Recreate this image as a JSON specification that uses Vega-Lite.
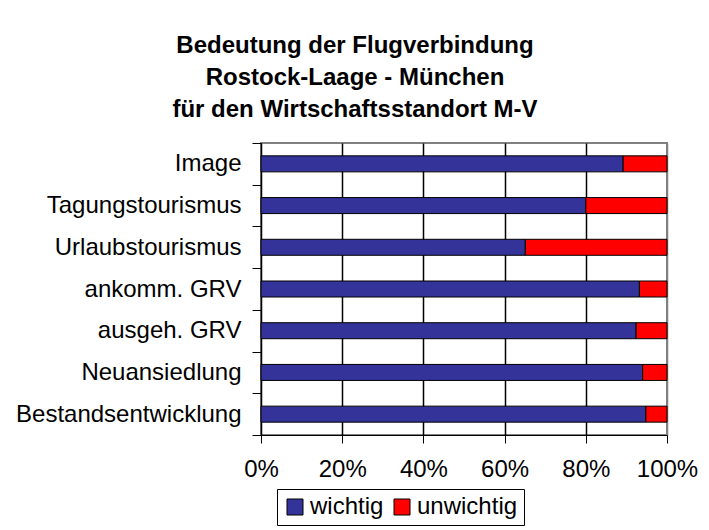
{
  "$schema": "https://vega.github.io/schema/vega-lite/v6.json",
  "autosize": "none",
  "width": 406,
  "height": 292,
  "padding": {"left": 261, "top": 143, "right": 42, "bottom": 95},
  "config": {
    "font": "Liberation Sans",
    "view": {"stroke": "#808080", "strokeWidth": 2}
  },
  "title": {
    "text": ["Bedeutung der Flugverbindung", "Rostock-Laage - München", "für den Wirtschaftsstandort M-V"],
    "fontSize": 24,
    "fontWeight": "bold",
    "font": "Liberation Sans",
    "color": "#000000",
    "anchor": "middle",
    "frame": "group",
    "dx": -109,
    "lineHeight": 32,
    "offset": 9
  },
  "data": {
    "values": [
      {"Bereich": "Image", "Bewertung": "wichtig", "Anteil": 89.2},
      {"Bereich": "Image", "Bewertung": "unwichtig", "Anteil": 10.8},
      {"Bereich": "Tagungstourismus", "Bewertung": "wichtig", "Anteil": 80},
      {"Bereich": "Tagungstourismus", "Bewertung": "unwichtig", "Anteil": 20},
      {"Bereich": "Urlaubstourismus", "Bewertung": "wichtig", "Anteil": 65.1},
      {"Bereich": "Urlaubstourismus", "Bewertung": "unwichtig", "Anteil": 34.9},
      {"Bereich": "ankomm. GRV", "Bewertung": "wichtig", "Anteil": 93.2},
      {"Bereich": "ankomm. GRV", "Bewertung": "unwichtig", "Anteil": 6.8},
      {"Bereich": "ausgeh. GRV", "Bewertung": "wichtig", "Anteil": 92.4},
      {"Bereich": "ausgeh. GRV", "Bewertung": "unwichtig", "Anteil": 7.6},
      {"Bereich": "Neuansiedlung", "Bewertung": "wichtig", "Anteil": 94},
      {"Bereich": "Neuansiedlung", "Bewertung": "unwichtig", "Anteil": 6},
      {"Bereich": "Bestandsentwicklung", "Bewertung": "wichtig", "Anteil": 94.8},
      {"Bereich": "Bestandsentwicklung", "Bewertung": "unwichtig", "Anteil": 5.2}
    ]
  },
  "mark": {"type": "bar", "size": 16, "stroke": "#000000", "strokeWidth": 1},
  "encoding": {
    "y": {
      "field": "Bereich",
      "type": "nominal",
      "sort": null,
      "scale": {"paddingInner": 0, "paddingOuter": 0},
      "axis": {
        "title": null,
        "grid": false,
        "tickBand": "extent",
        "tickSize": 9,
        "tickColor": "#000000",
        "domainColor": "#000000",
        "labelFontSize": 24,
        "labelColor": "#000000",
        "labelPadding": 11,
        "labelLimit": 300
      }
    },
    "x": {
      "field": "Anteil",
      "type": "quantitative",
      "stack": "normalize",
      "scale": {"domain": [0, 1], "nice": false},
      "axis": {
        "title": null,
        "grid": true,
        "gridColor": {"condition": {"test": "datum.value >= 0.99", "value": "#808080"}, "value": "#000000"},
        "gridWidth": 1.5,
        "values": [0, 0.2, 0.4, 0.6, 0.8, 1],
        "format": ".0%",
        "tickSize": 8,
        "tickColor": "#000000",
        "domainColor": "#000000",
        "labelFontSize": 24,
        "labelColor": "#000000",
        "labelPadding": 14,
        "labelFlush": false
      }
    },
    "order": {"field": "Bewertung", "type": "nominal", "sort": "descending"},
    "color": {
      "field": "Bewertung",
      "type": "nominal",
      "sort": ["wichtig", "unwichtig"],
      "scale": {"domain": ["wichtig", "unwichtig"], "range": ["#333399", "#FF0000"]},
      "legend": {
        "title": null,
        "orient": "none",
        "direction": "horizontal",
        "legendX": 16,
        "legendY": 346,
        "strokeColor": "#000000",
        "padding": 6,
        "symbolType": "square",
        "symbolSize": 256,
        "symbolStrokeColor": "#000000",
        "symbolStrokeWidth": 1,
        "symbolOpacity": 1,
        "labelFontSize": 24,
        "labelColor": "#000000",
        "labelOffset": 3,
        "columnPadding": 6
      }
    }
  }
}
